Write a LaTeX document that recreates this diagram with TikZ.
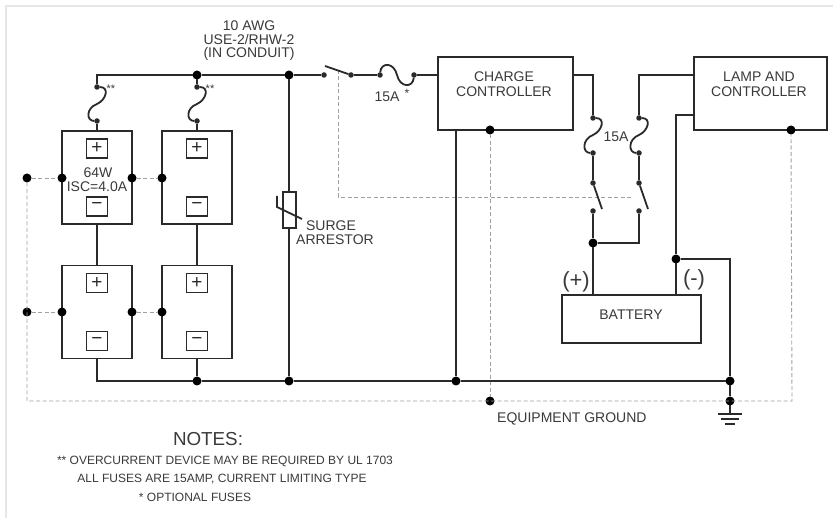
\documentclass[tikz,border=0pt]{standalone}
\usepackage{fontspec}
\setmainfont{Liberation Sans}
\definecolor{ink}{HTML}{2A2A2A}
\definecolor{txt}{HTML}{3A3A3A}
\definecolor{dsh}{HTML}{A0A0A0}
\definecolor{frm}{HTML}{E6E6E6}
\tikzset{
  wire/.style={draw=ink,line width=2.2pt,line join=miter},
  thin wire/.style={draw=ink,line width=1.8pt},
  gnd line/.style={draw=dsh,line width=0.9pt,dash pattern=on 4pt off 2.5pt},
  jdot/.style={circle,fill=black,draw=none,minimum size=9pt,inner sep=0pt,outer sep=0pt},
  sdot/.style={circle,fill=ink,draw=none,minimum size=5.5pt,inner sep=0pt,outer sep=0pt},
  panel/.style={rectangle,draw=ink,line width=1.6pt,minimum width=70pt,minimum height=93pt,inner sep=0pt,outer sep=0pt},
  term/.style={rectangle,draw=ink,line width=1.8pt,minimum width=21pt,minimum height=19pt,inner sep=0pt,font=\fontsize{19}{19}\selectfont,text=ink},
  cbox/.style={rectangle,draw=ink,line width=1.8pt,inner sep=0pt,outer sep=0pt},
  lab/.style={text=txt,font=\fontsize{14}{14}\selectfont,inner sep=0pt,align=center},
  note/.style={text=txt,font=\fontsize{12}{12}\selectfont,inner sep=0pt},
}
\newcommand{\vfuse}[3]{\draw[thin wire] (#1) .. controls +(13,0) and +(9,-4) .. (#2) .. controls +(-11,4) and +(-11,0) .. (#3);}
\begin{document}
\begin{tikzpicture}[x=1pt,y=-1pt]
\useasboundingbox (0,0) rectangle (833,518);
\fill[white] (0,0) rectangle (833,518);
\draw[frm,line width=2pt] (6,518) -- (6,6) -- (833,6);

% panels
\node[panel] (p1) at (97,177.5) {};
\node[panel] (p2) at (197,177.5) {};
\node[panel] (p3) at (97,312) {};
\node[panel] (p4) at (197,312) {};
\foreach \n/\x/\y/\s in {a/97/148.5/+,b/197/148.5/+,c/97/206.5/−,d/197/206.5/−,e/97/283/+,f/197/283/+,g/97/341/−,h/197/341/−}{
  \node[term] (t\n) at (\x,\y) {\s};
}

% boxes
\node[cbox,minimum width=135pt,minimum height=73pt] (cc) at (505.5,93.5) {};
\node[cbox,minimum width=133pt,minimum height=73pt] (lc) at (760.5,93.5) {};
\node[cbox,minimum width=139pt,minimum height=48pt] (bat) at (631.5,319) {};

% junctions
\node[jdot] (j197) at (197,75) {};
\node[jdot] (j289) at (289,75) {};
\node[jdot] (g1) at (27,178) {};
\node[jdot] (g2) at (62,178) {};
\node[jdot] (g3) at (132,178) {};
\node[jdot] (g4) at (162,178) {};
\node[jdot] (g5) at (27,312) {};
\node[jdot] (g6) at (62,312) {};
\node[jdot] (g7) at (132,312) {};
\node[jdot] (g8) at (162,312) {};
\node[jdot] (b197) at (197,381) {};
\node[jdot] (b289) at (289,381) {};
\node[jdot] (b456) at (456,381) {};
\node[jdot] (b730) at (730,381) {};
\node[jdot] (e490) at (490,401) {};
\node[jdot] (e730) at (730,401) {};
\node[jdot] (c490) at (490,130) {};
\node[jdot] (l791) at (791,130) {};
\node[jdot] (j593) at (593,243) {};
\node[jdot] (j676) at (676,259) {};

% small terminals
\node[sdot] (fa1) at (97,87) {};
\node[sdot] (fa2) at (97,121) {};
\node[sdot] (fb1) at (197,87) {};
\node[sdot] (fb2) at (197,121) {};
\node[sdot] (s1) at (324,75) {};
\node[sdot] (s2) at (351,75) {};
\node[sdot] (fh1) at (380,75) {};
\node[sdot] (fh2) at (414,75) {};
\node[sdot] (fc1) at (593,118) {};
\node[sdot] (fc2) at (593,153) {};
\node[sdot] (fd1) at (639,118) {};
\node[sdot] (fd2) at (639,153) {};
\node[sdot] (sc1) at (593,183) {};
\node[sdot] (sc2) at (593,211) {};
\node[sdot] (sd1) at (639,183) {};
\node[sdot] (sd2) at (639,211) {};

% helper coordinates
\coordinate (k97) at (97,75);
\coordinate (kb97) at (97,381);
\coordinate (fam) at (97,104);
\coordinate (fbm) at (197,104);
\coordinate (fcm) at (593,135);
\coordinate (fdm) at (639,135);
\coordinate (c1) at (593,75);
\coordinate (cout) at (573,75);
\coordinate (c2) at (639,75);
\coordinate (lin) at (694,75);
\coordinate (l1) at (694,115);
\coordinate (l2) at (676,115);
\coordinate (k639) at (639,243);
\coordinate (r730) at (730,259);
\coordinate (batp) at (593,295);
\coordinate (batn) at (676,295);
\coordinate (ccin) at (438,75);
\coordinate (ccb) at (456,130);
\coordinate (gcorn1) at (27,401);
\coordinate (gcorn2) at (792,401);
\coordinate (ms1) at (338,70);
\coordinate (ms2) at (338,197);
\coordinate (ms3) at (632,197);
\coordinate (gnd0) at (730,414);

% dashed equipment ground
\draw[gnd line] (g1) -- (g2);
\draw[gnd line] (g3) -- (g4);
\draw[gnd line] (g5) -- (g6);
\draw[gnd line] (g7) -- (g8);
\draw[gnd line] (g1) -- (gcorn1) -- (gcorn2) -- (l791);
\draw[gnd line] (c490) -- (e490);
\draw[gnd line] (ms1) -- (ms2) -- (ms3);

% wiring
\draw[wire] (fa1) -- (k97) -- (j197) -- (j289) -- (s1);
\draw[wire] (j197) -- (fb1);
\draw[wire] (fa2) -- (p1.north);
\draw[wire] (fb2) -- (p2.north);
\vfuse{fa1}{fam}{fa2}
\vfuse{fb1}{fbm}{fb2}
\draw[wire] (p1.south) -- (p3.north);
\draw[wire] (p2.south) -- (p4.north);
\draw[wire] (p3.south) -- (kb97) -- (b197) -- (b289) -- (b456) -- (b730);
\draw[wire] (p4.south) -- (b197);
\draw[wire] (j289) -- (b289);
\draw[wire] (ccb) -- (b456);
\draw[wire] (s2) -- (fh1);
\draw[wire] (fh2) -- (ccin);
\draw[thin wire] (fh1) .. controls +(1,-13) and +(-3,-13) .. (397,75) .. controls +(3,13) and +(-1,13) .. (fh2);
\draw[thin wire] (325,66) -- (s2);

\draw[wire] (cout) -- (c1) -- (fc1);
\draw[wire] (lin) -- (c2) -- (fd1);
\vfuse{fc1}{fcm}{fc2}
\vfuse{fd1}{fdm}{fd2}
\draw[wire] (fc2) -- (sc1);
\draw[wire] (fd2) -- (sd1);
\draw[thin wire] (sc1) -- (602,209);
\draw[thin wire] (sd1) -- (648,209);
\draw[wire] (sc2) -- (j593) -- (batp);
\draw[wire] (sd2) -- (k639) -- (j593);
\draw[wire] (l1) -- (l2) -- (j676) -- (batn);
\draw[wire] (j676) -- (r730) -- (b730) -- (e730) -- (gnd0);

% surge arrestor
\node[rectangle,draw=ink,line width=1.6pt,fill=white,minimum width=13pt,minimum height=36pt,inner sep=0pt] (sa) at (289.5,210) {};
\draw[thin wire] (277,196) -- (277,207) -- (302,219);

% ground symbol
\draw[wire] (718,414) -- (742,414);
\draw[wire] (721,419) -- (739,419);
\draw[wire] (725,424) -- (735,424);

% labels
\node[lab] (t1) at (249,26) {10 AWG};
\node[lab] (t2) at (249,40) {USE-2/RHW-2};
\node[lab] (t3) at (249,54) {(IN CONDUIT)};
\node[lab,font=\fontsize{11}{11}\selectfont] (st1) at (111,89) {**};
\node[lab,font=\fontsize{11}{11}\selectfont] (st2) at (210,89) {**};
\node[lab] (w1) at (98,173) {64W};
\node[lab] (w2) at (97,187) {ISC=4.0A};
\node[lab] (sg1) at (331,226) {SURGE};
\node[lab] (sg2) at (335,240) {ARRESTOR};
\node[lab] (a1) at (387,97) {15A};
\node[lab,font=\fontsize{12}{12}\selectfont] (a2) at (407,93) {*};
\node[lab] (a3) at (616,137) {15A};
\node[lab] (cc1) at (504,77) {CHARGE};
\node[lab] (cc2) at (504,92) {CONTROLLER};
\node[lab] (lc1) at (759,77) {LAMP AND};
\node[lab] (lc2) at (759,92) {CONTROLLER};
\node[lab] (bt) at (631,315) {BATTERY};
\node[lab,font=\fontsize{22}{22}\selectfont] (plus) at (576,282) {(+)};
\node[lab,font=\fontsize{22}{22}\selectfont] (minus) at (694,280) {(-)};
\node[lab,anchor=west] (eg) at (497,419) {EQUIPMENT GROUND};
\node[lab,font=\fontsize{18.8}{18.8}\selectfont] (nt) at (208,439) {NOTES:};
\node[note] (n1) at (225,461) {** OVERCURRENT DEVICE MAY BE REQUIRED BY UL 1703};
\node[note] (n2) at (222,479) {ALL FUSES ARE 15AMP, CURRENT LIMITING TYPE};
\node[note] (n3) at (195,497) {* OPTIONAL FUSES};
\end{tikzpicture}
\end{document}
